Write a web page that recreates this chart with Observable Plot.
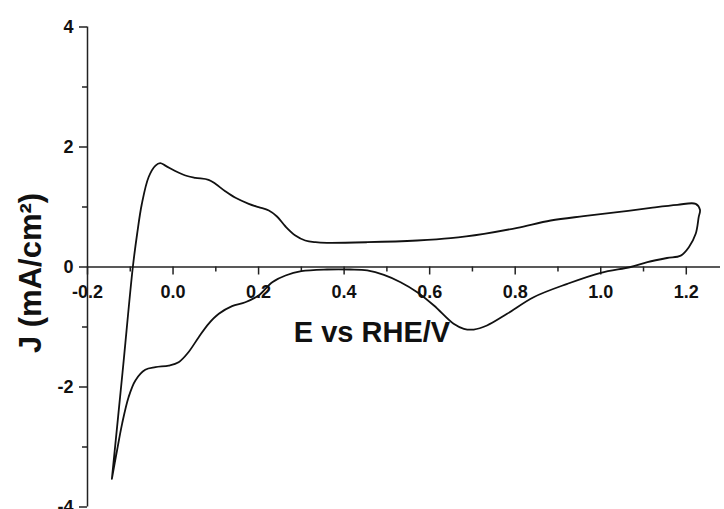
<!DOCTYPE html>
<html><head><meta charset="utf-8">
<script src="https://cdn.jsdelivr.net/npm/d3@7"></script>
<script src="https://cdn.jsdelivr.net/npm/@observablehq/plot@0.6"></script>
<style>body{margin:0;background:#fff}svg{display:block}</style>
</head><body><div id="chart"></div>
<script>
// Cyclic voltammogram, points in scan order (E in V vs RHE, J in mA/cm²)
const potential = [
  -0.143, -0.118, -0.094, -0.084, -0.073, -0.057, -0.041, -0.030, -0.018, 0.005,
  0.029, 0.052, 0.083, 0.099, 0.122, 0.146, 0.177, 0.200, 0.224, 0.243,
  0.263, 0.286, 0.309, 0.333, 0.360, 0.454, 0.571, 0.649, 0.727, 0.805,
  0.883, 0.960, 1.039, 1.117, 1.179, 1.222, 1.232, 1.229, 1.222, 1.206,
  1.187, 1.155, 1.109, 1.070, 1.000, 0.922, 0.843, 0.781, 0.734, 0.703,
  0.680, 0.656, 0.610, 0.571, 0.532, 0.493, 0.454, 0.415, 0.360, 0.300,
  0.263, 0.232, 0.200, 0.169, 0.138, 0.107, 0.083, 0.060, 0.036, 0.013,
  -0.010, -0.041, -0.065, -0.088, -0.104, -0.119, -0.131, -0.143
];
const current = [
  -3.53, -1.75, 0.00, 0.55, 1.05, 1.50, 1.69, 1.73, 1.69, 1.60,
  1.525, 1.487, 1.453, 1.387, 1.263, 1.153, 1.053, 0.997, 0.942, 0.842,
  0.675, 0.525, 0.442, 0.413, 0.403, 0.413, 0.442, 0.480, 0.553, 0.653,
  0.775, 0.847, 0.913, 0.986, 1.036, 1.053, 0.953, 0.830, 0.553, 0.330,
  0.190, 0.150, 0.080, 0.000, -0.097, -0.280, -0.503, -0.780, -0.975, -1.042,
  -1.030, -0.947, -0.642, -0.420, -0.253, -0.130, -0.058, -0.042, -0.042, -0.070,
  -0.142, -0.253, -0.475, -0.587, -0.653, -0.780, -0.947, -1.170, -1.420, -1.587,
  -1.642, -1.670, -1.713, -1.890, -2.170, -2.610, -3.060, -3.530
];
const xMajor = [-0.2, 0.0, 0.2, 0.4, 0.6, 0.8, 1.0, 1.2];
const xMinor = [-0.1, 0.1, 0.3, 0.5, 0.7, 0.9, 1.1];
const yMajor = [-4, -2, 0, 2, 4];
const yMinor = [-3, -1, 1, 3];
const xTitle = "E vs RHE/V";
const yTitle = "J (mA/cm²)";

const data = potential.map((e, i) => ({e, j: current[i]}));
const font = "Liberation Sans, Arial, sans-serif";

const chart = Plot.plot({
  width: 724,
  height: 509,
  marginLeft: 87,
  marginRight: 4,
  marginTop: 26.5,
  marginBottom: 2.5,
  style: {fontFamily: font, background: "#fff", overflow: "visible"},
  x: {domain: [-0.2, 1.28], axis: null},
  y: {domain: [-4, 4], axis: null},
  marks: [
    // axis lines
    Plot.ruleX([-0.2], {stroke: "#222", strokeWidth: 1.5}),
    Plot.ruleY([0], {stroke: "#222", strokeWidth: 1.5}),
    // x ticks (downward from y=0)
    Plot.ruleX(xMajor, {x: d => d, y1: 0, y2: 0, insetBottom: -8, stroke: "#222", strokeWidth: 1.5}),
    Plot.ruleX(xMinor, {x: d => d, y1: 0, y2: 0, insetBottom: -5, stroke: "#222", strokeWidth: 1.5}),
    Plot.text(xMajor, {x: d => d, y: 0, text: d => d.toFixed(1), dy: 25, fontSize: 18, fontWeight: "bold", fill: "#111"}),
    // y ticks (leftward)
    Plot.ruleY(yMajor, {y: d => d, x1: -0.2, x2: -0.2, insetLeft: -8, stroke: "#222", strokeWidth: 1.5}),
    Plot.ruleY(yMinor, {y: d => d, x1: -0.2, x2: -0.2, insetLeft: -5, stroke: "#222", strokeWidth: 1.5}),
    Plot.text(yMajor, {x: -0.2, y: d => d, text: d => String(d), dx: -14, textAnchor: "end", fontSize: 18, fontWeight: "bold", fill: "#111"}),
    // curve
    Plot.line(data, {x: "e", y: "j", curve: "catmull-rom", stroke: "#111", strokeWidth: 1.8}),
    // titles
    Plot.text([xTitle], {frameAnchor: "middle", text: d => d, dx: -32, dy: 66, textAnchor: "middle", fontSize: 29, fontWeight: "bold", fill: "#111"}),
    Plot.text([yTitle], {frameAnchor: "left", text: d => d, dx: -56, dy: 6, rotate: -90, textAnchor: "middle", fontSize: 31, fontWeight: "bold", fill: "#111"})
  ]
});
document.getElementById("chart").appendChild(chart);
</script>
</body></html>
